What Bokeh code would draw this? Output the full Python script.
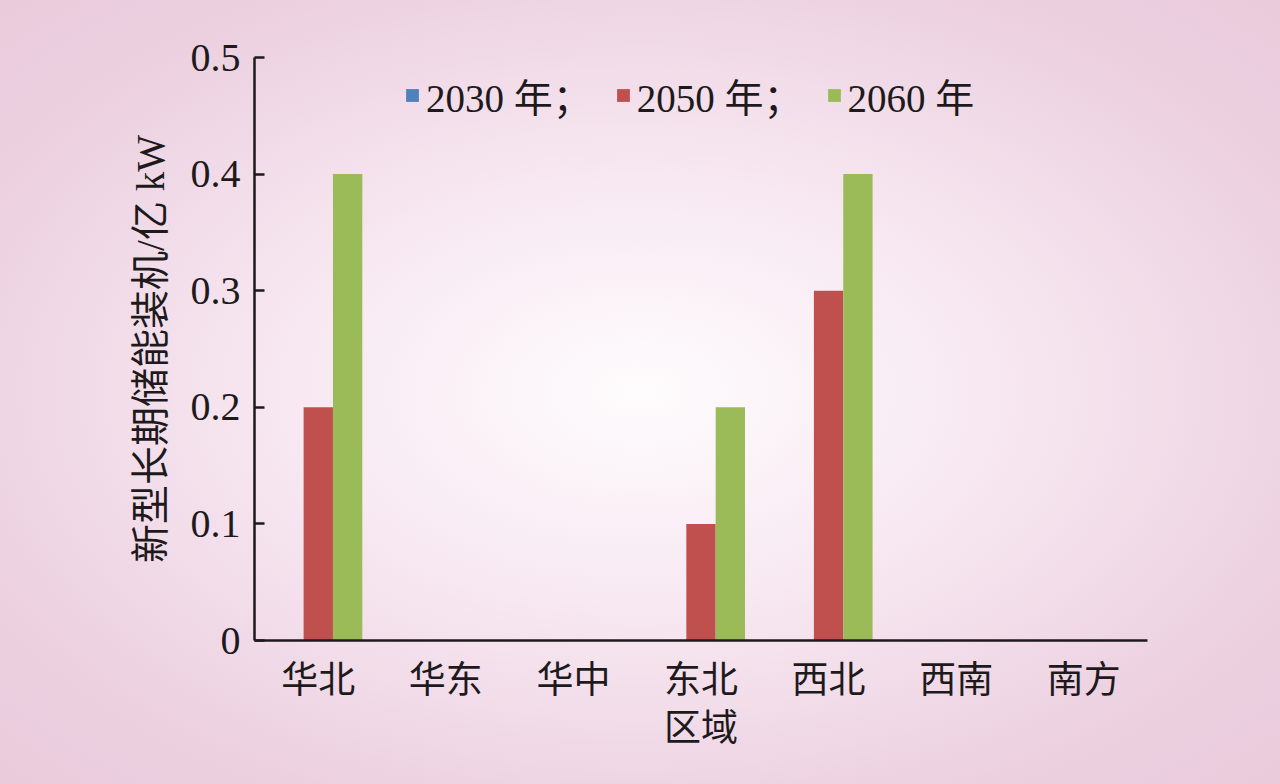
from bokeh.plotting import figure
from bokeh.models import FactorRange, Range1d, FixedTicker, Legend, LegendItem, ColumnDataSource
from bokeh.transform import dodge
from bokeh.embed import file_html
from bokeh.resources import INLINE

regions = ["华北", "华东", "华中", "东北", "西北", "西南", "南方"]
v2030 = [0, 0, 0, 0, 0, 0, 0]
v2050 = [0.2, 0, 0, 0.1, 0.3, 0, 0]
v2060 = [0.4, 0, 0, 0.2, 0.4, 0, 0]
series_labels = ["2030 年；", "2050 年；", "2060 年"]
y_ticks = [0, 0.1, 0.2, 0.3, 0.4, 0.5]
y_tick_labels = ["0", "0.1", "0.2", "0.3", "0.4", "0.5"]

FONT = "'Liberation Serif', 'Noto Sans CJK SC'"
TXT = "#1e1a1c"

src = ColumnDataSource(dict(x=regions, a=v2030, b=v2050, c=v2060))

p = figure(width=1280, height=784, x_range=FactorRange(*regions), y_range=Range1d(0, 0.5),
           output_backend="svg", toolbar_location=None,
           min_border_left=254, min_border_right=133, min_border_top=57, min_border_bottom=144)
p.styles = {"background": "radial-gradient(ellipse at 50% 50%, #fefcfd 0%, #f8eaf3 35%, #ecd0e0 80%, #e9cbdc 100%)"}
p.background_fill_alpha = 0
p.border_fill_alpha = 0
p.outline_line_color = None
p.xgrid.visible = False
p.ygrid.visible = False

w = 0.23
r1 = p.vbar(x=dodge("x", -w, range=p.x_range), top="a", width=w, source=src,
            fill_color="#4f81bd", line_alpha=0)
r2 = p.vbar(x=dodge("x", 0, range=p.x_range), top="b", width=w, source=src,
            fill_color="#c0504d", line_alpha=0)
r3 = p.vbar(x=dodge("x", w, range=p.x_range), top="c", width=w, source=src,
            fill_color="#9bbb59", line_alpha=0)

legend = Legend(items=[LegendItem(label=series_labels[0], renderers=[r1]),
                       LegendItem(label=series_labels[1], renderers=[r2]),
                       LegendItem(label=series_labels[2], renderers=[r3])],
                orientation="horizontal", location=(150, 517),
                background_fill_alpha=0, border_line_alpha=0,
                glyph_width=16, glyph_height=16, spacing=23, label_standoff=6,
                label_text_font=FONT, label_text_font_size="39px", label_text_color=TXT,
                padding=0, margin=0)
p.add_layout(legend)

for ax in (p.xaxis[0], p.yaxis[0]):
    ax.axis_line_color = "#1e1a1c"
    ax.axis_line_width = 2.5
    ax.major_label_text_font = FONT
    ax.major_label_text_color = TXT
    ax.axis_label_text_font = FONT
    ax.axis_label_text_color = TXT
    ax.axis_label_text_font_style = "normal"

p.yaxis.ticker = FixedTicker(ticks=y_ticks)
p.yaxis.major_label_overrides = {t: l for t, l in zip(y_ticks, y_tick_labels)}
p.yaxis.major_tick_in = 10
p.yaxis.major_tick_out = 0
p.yaxis.major_tick_line_width = 2.5
p.yaxis.major_tick_line_color = "#1e1a1c"
p.yaxis.minor_tick_line_color = None
p.yaxis.major_label_text_font_size = "40px"
p.yaxis.major_label_standoff = 14
p.yaxis.axis_label = "新型长期储能装机/亿 kW"
p.yaxis.axis_label_text_font_size = "39px"
p.yaxis.axis_label_standoff = 16

p.xaxis.major_tick_line_color = None
p.xaxis.minor_tick_line_color = None
p.xaxis.major_label_text_font_size = "37px"
p.xaxis.major_label_standoff = 13
p.xaxis.axis_label = "区域"
p.xaxis.axis_label_text_font_size = "37px"
p.xaxis.axis_label_standoff = 4

html = file_html(p, INLINE)
html = html.replace("<body>", '<body style="margin:0;overflow:hidden;background:#ecd0e0;">', 1)
open("out.html", "w").write(html)
